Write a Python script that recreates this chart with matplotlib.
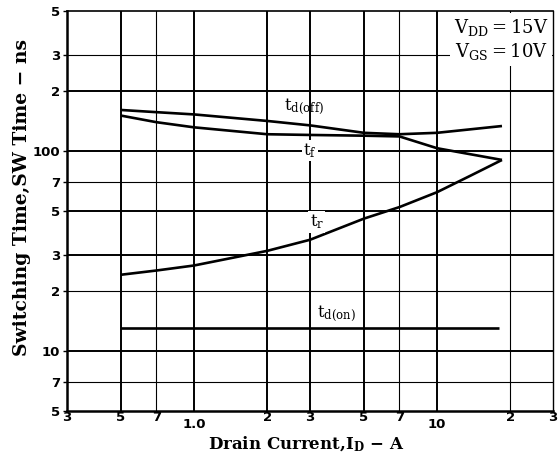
import matplotlib
matplotlib.use('Agg')
import matplotlib.pyplot as plt
import matplotlib.transforms as mtransforms
from matplotlib.ticker import FixedLocator, NullLocator

# tick values and labels as printed on the sheet
x_ticks = [0.3, 0.5, 0.7, 1.0, 2, 3, 5, 7, 10, 20, 30]
x_tick_labels = ['3', '5', '7', '1.0', '2', '3', '5', '7', '10', '2', '3']
y_ticks = [5, 7, 10, 20, 30, 50, 70, 100, 200, 300, 500]
y_tick_labels = ['5', '7', '10', '2', '3', '5', '7', '100', '2', '3', '5']

# grid lines (thick / thin as on the original)
x_grid_thick = [0.5, 1.0, 2, 3, 5, 10]
x_grid_thin = [0.7, 7, 20]
y_grid_thick = [10, 30, 50, 100, 200]
y_grid_thin = [7, 20, 70, 300]

# curves (drain current A, time ns)
td_off_x = [0.5, 0.7, 1.0, 2, 3, 5, 7, 10, 18.5]
td_off_y = [160, 156, 152, 141, 134, 123, 121, 123, 133]

tf_x = [0.5, 0.7, 1.0, 2, 3, 5, 7, 10, 18.5]
tf_y = [150, 139, 131, 121, 120, 119, 118, 103, 90]

tr_x = [0.5, 0.7, 1.0, 2, 3, 5, 7, 10, 13.7, 18.5]
tr_y = [24.0, 25.2, 26.7, 31.6, 35.9, 45.8, 52.3, 62.1, 75, 90]

td_on_x = [0.5, 18]
td_on_y = [13, 13]

fig = plt.figure(figsize=(5.58, 4.61), dpi=100)
ax = fig.add_axes([67 / 558, 1 - 411 / 461, (553 - 67) / 558, 400 / 461])
ax.set_xscale('log')
ax.set_yscale('log')
ax.set_xlim(0.3, 30)
ax.set_ylim(5, 500)

# grid
for v in x_grid_thick:
    ax.axvline(v, color='black', lw=1.4, zorder=1)
for v in x_grid_thin:
    ax.axvline(v, color='black', lw=0.8, zorder=1)
for v in y_grid_thick:
    ax.axhline(v, color='black', lw=1.4, zorder=1)
for v in y_grid_thin:
    ax.axhline(v, color='black', lw=0.8, zorder=1)

# curves
for xs, ys in [(td_off_x, td_off_y), (tf_x, tf_y), (tr_x, tr_y), (td_on_x, td_on_y)]:
    ax.plot(xs, ys, color='black', lw=1.9, zorder=3, solid_capstyle='butt')

plt.rcParams['mathtext.default'] = 'regular'
lab = dict(family='DejaVu Serif', fontsize=12, color='black', zorder=4)
box = dict(facecolor='white', edgecolor='none', pad=1.0)
ax.text(2.35, 160, r'$t_{d(off)}$', ha='left', va='baseline', **lab)
ax.text(3.0, 100, r'$t_{f}$', ha='center', va='center', bbox=box, **lab)
ax.text(3.2, 44, r'$t_{r}$', ha='center', va='center', bbox=box, **lab)
ax.text(3.2, 13.6, r'$t_{d(on)}$', ha='left', va='bottom',
        bbox=dict(facecolor='white', edgecolor='none', pad=0.5), **lab)

# condition box
ax.text(0.99, 0.985, '$V_{DD}=15V$\n$V_{GS}=10V$', transform=ax.transAxes,
        ha='right', va='top', family='DejaVu Serif', fontsize=13,
        linespacing=1.2, zorder=5,
        bbox=dict(facecolor='white', edgecolor='none', pad=3))

# ticks
ax.xaxis.set_major_locator(FixedLocator(x_ticks))
ax.xaxis.set_minor_locator(NullLocator())
ax.yaxis.set_major_locator(FixedLocator(y_ticks))
ax.yaxis.set_minor_locator(NullLocator())
ax.set_xticklabels(x_tick_labels, fontsize=9.5, fontweight='bold', family='DejaVu Sans')
ax.set_yticklabels(y_tick_labels, fontsize=9.5, fontweight='bold', family='DejaVu Sans')
ax.tick_params(axis='x', length=0, pad=0)
ax.tick_params(axis='y', length=3, width=1, pad=2, direction='out')

for lbl in ax.get_xticklabels():
    if lbl.get_text() in ('1.0', '10'):
        lbl.set_transform(lbl.get_transform() +
                          mtransforms.ScaledTranslation(0, -5 / 72, fig.dpi_scale_trans))

for side, w in [('left', 1.8), ('bottom', 1.8), ('top', 1.2), ('right', 1.0)]:
    ax.spines[side].set_linewidth(w)

ax.set_xlabel('Drain Current,$I_D$ − A', family='DejaVu Serif', fontweight='bold',
              fontsize=12)
ax.set_ylabel('Switching Time,SW Time − ns', family='DejaVu Serif', fontweight='bold',
              fontsize=13.5)
ax.xaxis.set_label_coords(0.492, -0.058)
ax.yaxis.set_label_coords(-0.075, 0.535)

fig.savefig('out.png', dpi=100)
